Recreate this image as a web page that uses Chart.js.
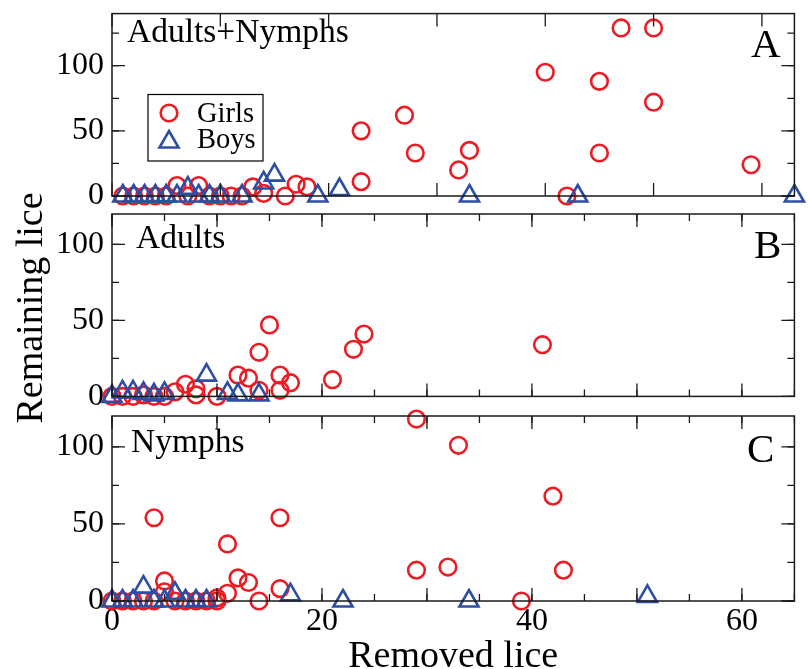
<!DOCTYPE html>
<html>
<head>
<meta charset="utf-8">
<script src="https://cdn.jsdelivr.net/npm/chart.js@4.4.1/dist/chart.umd.min.js"></script>
<style>
  html, body { margin: 0; padding: 0; background: #fff; overflow: hidden; }
  #wrap { position: relative; width: 808px; height: 669px; }
  #wrap canvas { position: absolute; left: 0; }
  #ylab {
    position: absolute; left: 28.9px; top: 307.5px;
    width: 300px; height: 46px; margin: -23px 0 0 -150px;
    font: 38px/46px 'Liberation Serif', 'Times New Roman', serif;
    text-align: center; white-space: nowrap; color: #000;
    transform: rotate(-90deg);
  }
</style>
</head>
<body>
<div id="wrap">
  <canvas id="panelA" width="808" height="210" style="top:0px"></canvas>
  <canvas id="panelB" width="808" height="210" style="top:200px"></canvas>
  <canvas id="panelC" width="808" height="269" style="top:400px"></canvas>
  <div id="ylab">Remaining lice</div>
</div>
<script>
// ===== data: [removed lice, remaining lice] per child =====
const allGirls = [[1,0],[2,0],[3,0],[4,0],[5,0],[6,8],[7,0],[8,8],[9,0],[10,0],[11,0],[12,0],[13,7],[14,2],
  [16,0],[17,9],[18,7],[23,11],[23,50],[27,62],[28,33],[32,20],[33,35],[40,95],[42,0],[45,88],[45,33],
  [47,129],[50,129],[50,72],[59,24]];
const allBoys = [[1,0],[2,0],[3,0],[4,0],[5,0],[6,0],[7,6],[8,0],[9,0],[10,0],[12,0],[14,10],[15,16],
  [19,0],[21,5],[33,0],[43,0],[63,0]];

const adultGirls = [[0,0],[1,0],[2,0],[3,1],[4,0],[5,0],[6,3],[7,8],[8,5],[8,1],[10,0],[12,14],[13,12],
  [14,29],[14,4],[15,47],[16,4],[16,14],[17,9],[21,11],[23,31],[24,41],[41,34]];
const adultBoys = [[0,0],[1,3],[2,3],[3,2],[4,1],[5,2],[9,14],[11,2],[12,1],[14,1]];

const nymphGirls = [[0,0],[1,0],[2,0],[3,0],[4,0],[4,54],[5,13],[5,6],[6,0],[7,0],[8,0],[9,0],[10,0],
  [10,2],[11,37],[11,5],[12,15],[13,12],[14,0],[16,54],[16,8],[29,118],[29,20],[32,22],[33,101],
  [39,0],[42,68],[43,20]];
const nymphBoys = [[0,0],[1,0],[2,0],[3,9],[4,0],[5,0],[6,5],[7,0],[8,0],[9,0],[17,4],[22,0],[34,0],[51,3]];

const seriesNames = ['Girls', 'Boys'];
const panelNames = ['Adults+Nymphs', 'Adults', 'Nymphs'];
const panelLetters = ['A', 'B', 'C'];
const xTickLabels = [0, 20, 40, 60];
const yTickLabels = [0, 50, 100];

const RED = 'rgb(235,28,36)';
const BLUE = 'rgb(46,78,163)';
const SERIF = "'Liberation Serif', 'Times New Roman', serif";

const toPoints = arr => arr.map(([x, y]) => ({ x, y }));

function datasets(girls, boys) {
    return [
        { label: seriesNames[0], data: toPoints(girls), order: 1, pointStyle: 'circle', pointRadius: 8.3,
          borderWidth: 2.6, borderColor: RED, backgroundColor: 'rgba(0,0,0,0)', clip: false },
        { label: seriesNames[1], data: toPoints(boys), order: 0, pointStyle: 'triangle', pointRadius: 11,
          borderWidth: 2.6, borderColor: BLUE, backgroundColor: 'rgba(0,0,0,0)', clip: false }
    ];
}

// frame with inward ticks on all four sides, panel captions, optional legend
const framePlugin = {
    id: 'frame',
    afterDatasetsDraw(chart, args, o) {
        const { ctx, chartArea: a, scales: { x, y } } = chart;
        ctx.save();
        ctx.strokeStyle = '#1a1a1a';
        ctx.lineWidth = 1.5;
        ctx.strokeRect(a.left, a.top, a.width, a.height);
        ctx.lineWidth = 1.3;
        const marks = (scale, step, len, horiz) => {
            if (!step) return;
            for (let v = Math.ceil(scale.min / step) * step; v <= scale.max + 1e-6; v += step) {
                const p = scale.getPixelForValue(v);
                ctx.beginPath();
                if (horiz) {
                    ctx.moveTo(p, a.bottom); ctx.lineTo(p, a.bottom - len);
                    ctx.moveTo(p, a.top); ctx.lineTo(p, a.top + len);
                } else {
                    ctx.moveTo(a.left, p); ctx.lineTo(a.left + len, p);
                    ctx.moveTo(a.right, p); ctx.lineTo(a.right - len, p);
                }
                ctx.stroke();
            }
        };
        marks(x, o.xMinor, 7, true);
        marks(x, o.xMajor, 13, true);
        marks(y, o.yMinor, 7, false);
        marks(y, o.yMajor, 13, false);

        ctx.fillStyle = '#000';
        ctx.textBaseline = 'alphabetic';
        ctx.textAlign = 'left';
        (o.texts || []).forEach(t => {
            ctx.font = t.size + 'px ' + SERIF;
            ctx.fillText(t.text, t.x, t.y);
        });

        const lg = o.legend;
        if (lg) {
            ctx.lineWidth = 1.2;
            ctx.strokeStyle = '#000';
            ctx.strokeRect(lg.x, lg.y, lg.w, lg.h);
            ctx.font = lg.size + 'px ' + SERIF;
            chart.data.datasets.forEach((ds, i) => {
                const row = lg.rows[i];
                ctx.strokeStyle = ds.borderColor;
                ctx.fillStyle = 'rgba(0,0,0,0)';
                ctx.lineWidth = ds.borderWidth;
                Chart.helpers.drawPoint(ctx, { pointStyle: ds.pointStyle, radius: ds.pointRadius,
                    borderWidth: ds.borderWidth, rotation: 0 }, lg.markerX, row.marker);
                ctx.fillStyle = '#000';
                ctx.fillText(ds.label, lg.textX, row.text);
            });
        }
        ctx.restore();
    }
};

function makeChart(id, girls, boys, o) {
    return new Chart(document.getElementById(id), {
        type: 'scatter',
        data: { datasets: datasets(girls, boys) },
        options: {
            responsive: false,
            animation: false,
            events: [],
            layout: { padding: { left: 0, right: 6, top: o.padTop, bottom: o.padBottom } },
            plugins: { legend: { display: false }, tooltip: { enabled: false }, frame: o.frame },
            scales: {
                x: {
                    type: 'linear', min: 0, max: o.xMax, display: o.showX,
                    grid: { display: false, drawTicks: false }, border: { display: false },
                    ticks: {
                        autoSkip: false, maxRotation: 0, padding: 1, color: '#000',
                        font: { family: SERIF, size: 32 }
                    },
                    afterBuildTicks: s => { s.ticks = xTickLabels.map(v => ({ value: v })); },
                    title: { display: o.showX, text: 'Removed lice', color: '#000',
                             font: { family: SERIF, size: 38, lineHeight: 0.65 }, padding: 0 },
                    afterFit: s => {
                        s.height = o.xHeight || 0;
                        s.paddingLeft = 0; s.paddingRight = 0;
                    }
                },
                y: {
                    min: 0, max: o.yMax,
                    grid: { display: false, drawTicks: false }, border: { display: false },
                    ticks: { padding: 8, color: '#000', font: { family: SERIF, size: 32 } },
                    afterBuildTicks: s => { s.ticks = yTickLabels.map(v => ({ value: v })); },
                    afterFit: s => {
                        s.width = 112;
                        s.paddingTop = 0; s.paddingBottom = 0;
                    }
                }
            }
        },
        plugins: [framePlugin]
    });
}

makeChart('panelA', allGirls, allBoys, {
    xMax: 63, yMax: 140, padTop: 11, padBottom: 14, showX: false,
    frame: {
        xMajor: 10, xMinor: 0, yMajor: 50, yMinor: 25,
        texts: [{ text: panelNames[0], x: 127, y: 41.7, size: 33.5 },
                { text: panelLetters[0], x: 751, y: 56.7, size: 41 }],
        legend: { x: 148, y: 94.5, w: 115, h: 66.5, markerX: 169, textX: 197, size: 28.5,
                  rows: [{ marker: 113, text: 121.7 }, { marker: 142, text: 148.3 }] }
    }
});

makeChart('panelB', adultGirls, adultBoys, {
    xMax: 65, yMax: 120, padTop: 14, padBottom: 12, showX: false,
    frame: {
        xMajor: 10, xMinor: 5, yMajor: 50, yMinor: 25,
        texts: [{ text: panelNames[1], x: 136, y: 48.3, size: 33.5 },
                { text: panelLetters[1], x: 754, y: 58.3, size: 41 }]
    }
});

makeChart('panelC', nymphGirls, nymphBoys, {
    xMax: 65, yMax: 120, padTop: 16, padBottom: 0, showX: true, xHeight: 68,
    frame: {
        xMajor: 10, xMinor: 5, yMajor: 50, yMinor: 25,
        texts: [{ text: panelNames[2], x: 131, y: 51.7, size: 33.5 },
                { text: panelLetters[2], x: 747, y: 61.7, size: 41 }]
    }
});
</script>
</body>
</html>
